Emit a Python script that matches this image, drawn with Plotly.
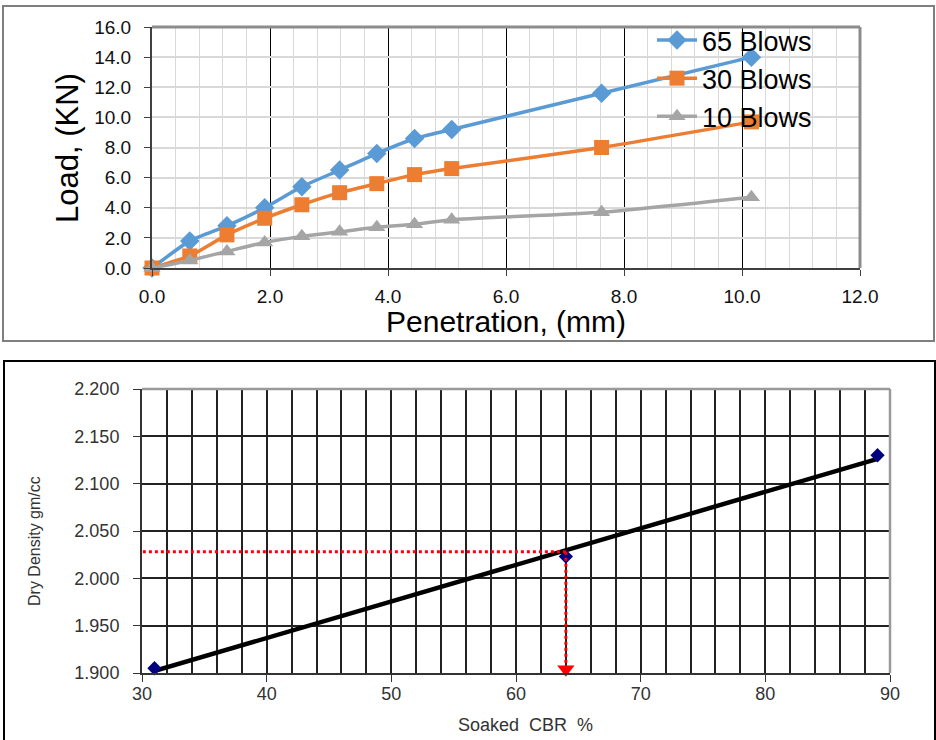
import numpy as np
import plotly.graph_objects as go

W, H = 936, 740

# --- CBR load-penetration test ---
penetration = [0, 0.64, 1.27, 1.91, 2.54, 3.18, 3.81, 4.45, 5.08, 7.62, 10.16]
load_65 = [0, 1.8, 2.8, 4.0, 5.4, 6.5, 7.6, 8.6, 9.2, 11.6, 14.0]
load_30 = [0, 0.8, 2.2, 3.3, 4.2, 5.0, 5.6, 6.2, 6.6, 8.0, 9.7]
load_10 = [0, 0.5, 1.1, 1.7, 2.1, 2.4, 2.7, 2.9, 3.2, 3.7, 4.7]
series_names = ["65 Blows", "30 Blows", "10 Blows"]

# --- Dry density vs soaked CBR ---
soaked_cbr = [31, 64, 89]
dry_density = [1.905, 2.023, 2.130]
cbr_read = 64          # design CBR
density_read = 2.028   # corresponding dry density


def px(x):
    return x / W


def py(y):
    return 1 - y / H


fig = go.Figure()

styles = [
    ("#5B9BD5", "diamond", 15),
    ("#ED7D31", "square", 15),
    ("#A5A5A5", "triangle-up", 15),
]
for name, loads, (col, sym, size) in zip(series_names, [load_65, load_30, load_10], styles):
    fig.add_trace(go.Scatter(
        x=penetration, y=loads, name=name, mode="lines+markers",
        line=dict(color=col, width=3.5, shape="spline", smoothing=0.5),
        marker=dict(color=col, symbol=sym, size=size),
        cliponaxis=False, xaxis="x", yaxis="y",
    ))

# linear trend of dry density against CBR
slope, intercept = np.polyfit(soaked_cbr, dry_density, 1)
trend_x = [min(soaked_cbr), max(soaked_cbr)]
trend_y = [slope * v + intercept for v in trend_x]
fig.add_trace(go.Scatter(
    x=trend_x, y=trend_y, mode="lines", line=dict(color="black", width=4.5),
    showlegend=False, xaxis="x2", yaxis="y2",
))
fig.add_trace(go.Scatter(
    x=soaked_cbr, y=dry_density, mode="markers",
    marker=dict(color="#000080", symbol="diamond", size=11),
    showlegend=False, xaxis="x2", yaxis="y2", cliponaxis=False,
))

x2_min, x2_max = 30, 90
y2_min, y2_max = 1.9, 2.2

# red dotted reading guides with arrow heads
fig.add_trace(go.Scatter(
    x=[cbr_read, x2_min], y=[density_read, density_read], mode="lines",
    line=dict(color="red", width=3, dash="dot"),
    showlegend=False, xaxis="x2", yaxis="y2",
))
fig.add_trace(go.Scatter(
    x=[cbr_read, cbr_read], y=[density_read, y2_min], mode="lines",
    line=dict(color="red", width=3, dash="dot"),
    showlegend=False, xaxis="x2", yaxis="y2",
))
fig.add_trace(go.Scatter(
    x=[x2_min - 0.55], y=[density_read], mode="markers",
    marker=dict(color="red", symbol="triangle-left", size=15),
    showlegend=False, xaxis="x2", yaxis="y2", cliponaxis=False,
))
fig.add_trace(go.Scatter(
    x=[cbr_read], y=[y2_min + 0.004], mode="markers",
    marker=dict(color="red", symbol="triangle-down", size=15),
    showlegend=False, xaxis="x2", yaxis="y2", cliponaxis=False,
))

font_main = "Arial, Liberation Sans, sans-serif"

fig.update_layout(
    width=W, height=H,
    margin=dict(l=0, r=0, t=0, b=0, pad=0, autoexpand=False),
    paper_bgcolor="white", plot_bgcolor="white",
    font=dict(family=font_main, color="#111"),
    showlegend=True,
    legend=dict(
        x=px(652), y=py(16), xanchor="left", yanchor="top",
        bgcolor="rgba(0,0,0,0)", font=dict(size=27, color="black"),
        tracegroupgap=0, itemwidth=40,
    ),
    xaxis=dict(
        domain=[px(152), px(860)], anchor="y", range=[0, 12], dtick=2,
        tickformat=".1f", showgrid=True, gridcolor="#000000", gridwidth=1,
        minor=dict(dtick=0.4, showgrid=True, gridcolor="#d9d9d9", gridwidth=1),
        showline=True, linecolor="#404040", linewidth=2,
        ticks="outside", ticklen=6, tickcolor="#404040", ticklabelstandoff=4,
        tickfont=dict(size=19, color="#111"), zeroline=False, automargin=False,
    ),
    yaxis=dict(
        domain=[py(268), py(27)], anchor="x", range=[0, 16], dtick=2,
        tickformat=".1f", showgrid=True, gridcolor="#d9d9d9", gridwidth=1.5,
        showline=True, linecolor="#404040", linewidth=2,
        ticks="outside", ticklen=6, tickcolor="#404040", ticklabelstandoff=9,
        tickfont=dict(size=19, color="#111"), zeroline=False, automargin=False,
    ),
    xaxis2=dict(
        domain=[px(142), px(890)], anchor="y2", range=[x2_min, x2_max], dtick=10,
        showgrid=True, gridcolor="#222222", gridwidth=1.5,
        minor=dict(dtick=2, showgrid=True, gridcolor="#222222", gridwidth=1.5),
        showline=True, linecolor="#333333", linewidth=2,
        ticks="outside", ticklen=7, tickcolor="#333333", ticklabelstandoff=-4,
        tickfont=dict(size=18, color="#333333"), zeroline=False, automargin=False,
    ),
    yaxis2=dict(
        domain=[py(673), py(389)], anchor="x2", range=[y2_min, y2_max], dtick=0.05,
        tickformat=".3f", showgrid=True, gridcolor="#222222", gridwidth=1.5,
        showline=True, linecolor="#333333", linewidth=2,
        ticks="outside", ticklen=7, tickcolor="#333333", ticklabelstandoff=10,
        tickfont=dict(size=18, color="#333333"), zeroline=False, automargin=False,
    ),
)

shapes = [
    # outer chart frames
    dict(type="rect", xref="paper", yref="paper", x0=px(3), x1=px(934), y0=py(341), y1=py(6),
         line=dict(color="#7f7f7f", width=2), layer="below"),
    dict(type="rect", xref="paper", yref="paper", x0=px(4), x1=px(935), y0=py(760), y1=py(361),
         line=dict(color="black", width=2), layer="below"),
    # plot-area top/right borders
    dict(type="line", xref="x domain", yref="y domain", x0=0, x1=1, y0=1, y1=1,
         line=dict(color="#8c8c8c", width=3)),
    dict(type="line", xref="x domain", yref="y domain", x0=1, x1=1, y0=0, y1=1,
         line=dict(color="#8c8c8c", width=3)),
    dict(type="line", xref="x2 domain", yref="y2 domain", x0=0, x1=1, y0=1, y1=1,
         line=dict(color="#9a9a9a", width=2.5)),
    dict(type="line", xref="x2 domain", yref="y2 domain", x0=1, x1=1, y0=0, y1=1,
         line=dict(color="#9a9a9a", width=2.5)),
]
fig.update_layout(shapes=shapes)

title_common = dict(xref="paper", yref="paper", showarrow=False,
                    xanchor="center", yanchor="middle")
annotations = [
    dict(text="Load, (KN)", x=px(68), y=py(148), textangle=-90,
         font=dict(size=31, color="black"), **title_common),
    dict(text="Penetration, (mm)", x=px(506), y=py(321),
         font=dict(size=30, color="black"), **title_common),
    dict(text="Dry Density gm/cc", x=px(34), y=py(541), textangle=-90,
         font=dict(size=16, color="#333333"), **title_common),
    dict(text="Soaked  CBR  %", x=px(525), y=py(725),
         font=dict(size=18, color="#333333"), **title_common),
]
fig.update_layout(annotations=annotations)

fig.write_html("out.html")
